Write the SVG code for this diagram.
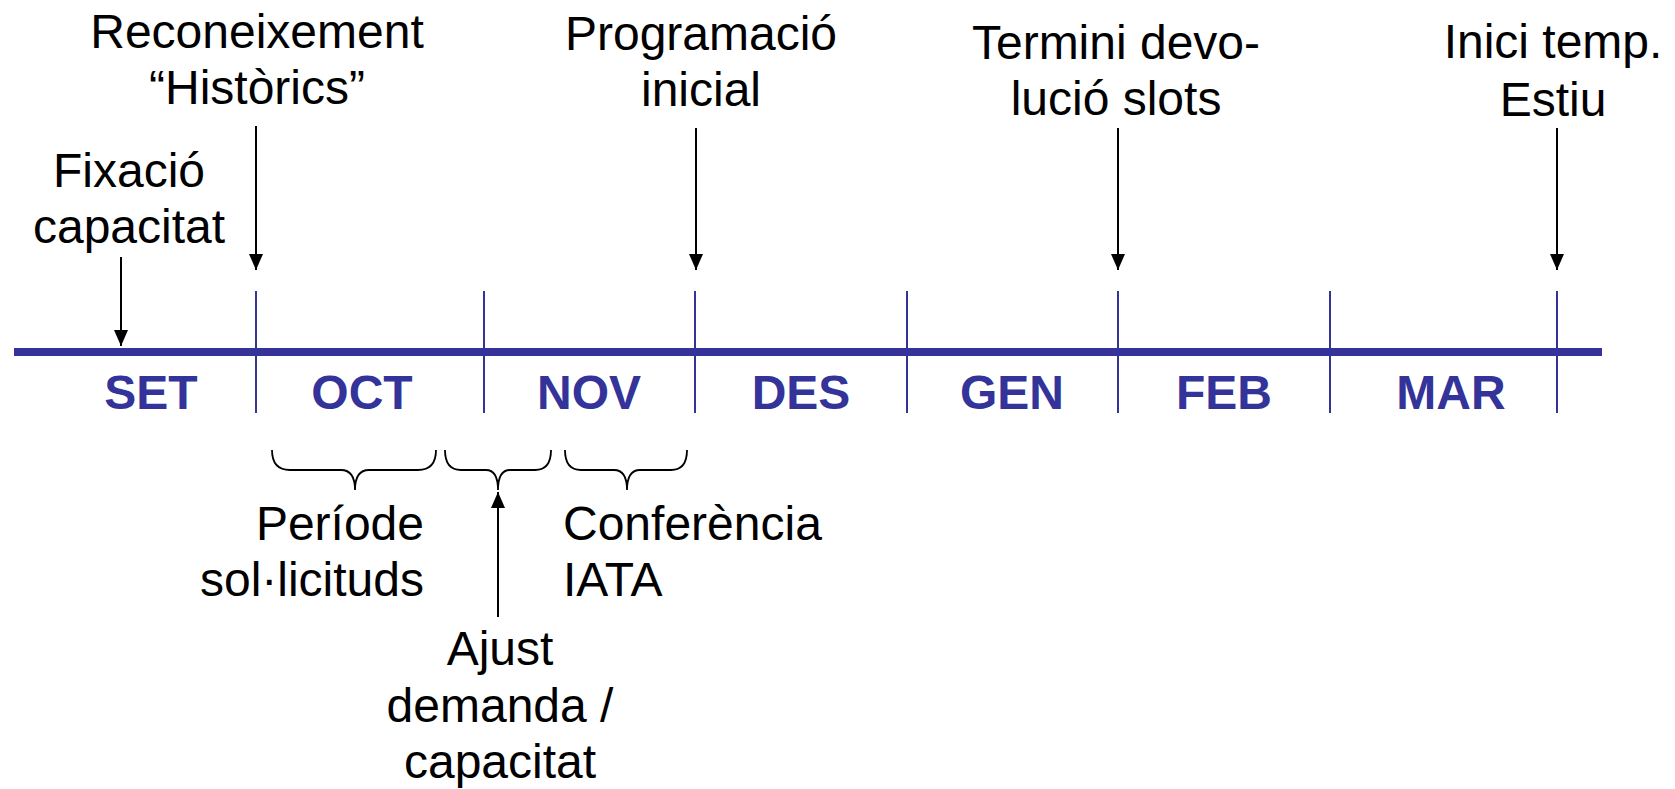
<svg xmlns="http://www.w3.org/2000/svg" width="1675" height="789" viewBox="0 0 1675 789">
<defs>
<style>
.lbl{font-family:"Liberation Sans",Arial,sans-serif;font-size:48px;fill:#000}
.mid{text-anchor:middle}
.mon{font-family:"Liberation Sans",Arial,sans-serif;font-size:48px;font-weight:bold;fill:#333399;text-anchor:middle}
.tick{stroke:#333399;stroke-width:2;fill:none}
.axis{stroke:#333399;stroke-width:8;fill:none}
.arr{stroke:#000;stroke-width:2;fill:none;marker-end:url(#ah)}
.brace{stroke:#000;stroke-width:1.8;fill:none}
</style>
<marker id="ah" viewBox="0 0 16 14" refX="16" refY="7" markerWidth="16" markerHeight="14" markerUnits="userSpaceOnUse" orient="auto">
<path d="M0,0 L16,7 L0,14 Z" fill="#000"/>
</marker>
</defs>
<rect width="1675" height="789" fill="#fff"/>
<g id="timeline">
<line class="axis" x1="14" y1="352" x2="1602" y2="352"/>
<line class="tick" x1="256" y1="291" x2="256" y2="413"/>
<line class="tick" x1="484" y1="291" x2="484" y2="413"/>
<line class="tick" x1="695" y1="291" x2="695" y2="413"/>
<line class="tick" x1="907" y1="291" x2="907" y2="413"/>
<line class="tick" x1="1118" y1="291" x2="1118" y2="413"/>
<line class="tick" x1="1330" y1="291" x2="1330" y2="413"/>
<line class="tick" x1="1557" y1="291" x2="1557" y2="413"/>
</g>
<g id="months">
<text class="mon" x="151" y="409">SET</text>
<text class="mon" x="362" y="409">OCT</text>
<text class="mon" x="589" y="409">NOV</text>
<text class="mon" x="801" y="409">DES</text>
<text class="mon" x="1012" y="409">GEN</text>
<text class="mon" x="1224" y="409">FEB</text>
<text class="mon" x="1451" y="409">MAR</text>
</g>
<g id="n-fixacio"><text class="lbl mid" x="129" y="187">Fixació</text><text class="lbl mid" x="129" y="243">capacitat</text></g>
<g id="n-historics"><text class="lbl mid" x="257" y="48">Reconeixement</text><text class="lbl mid" x="257" y="104">“Històrics”</text></g>
<g id="n-programacio"><text class="lbl mid" x="701" y="50">Programació</text><text class="lbl mid" x="701" y="106">inicial</text></g>
<g id="n-termini"><text class="lbl mid" x="1116" y="59">Termini devo-</text><text class="lbl mid" x="1116" y="115">lució slots</text></g>
<g id="n-inici"><text class="lbl mid" x="1553" y="58">Inici temp.</text><text class="lbl mid" x="1553" y="116">Estiu</text></g>
<g id="n-periode"><text class="lbl" text-anchor="end" x="424" y="540">Període</text><text class="lbl" text-anchor="end" x="424" y="596">sol·licituds</text></g>
<g id="n-conferencia"><text class="lbl" x="563" y="540">Conferència</text><text class="lbl" x="563" y="596">IATA</text></g>
<g id="n-ajust"><text class="lbl mid" x="500" y="665">Ajust</text><text class="lbl mid" x="500" y="722">demanda /</text><text class="lbl mid" x="500" y="778">capacitat</text></g>
<g id="braces">
<path class="brace" d="M272,450 Q272,470 290,470 L341,470 Q355,470 355,490 Q355,470 369,470 L418,470 Q436,470 436,450"/>
<path class="brace" d="M445,450 Q445,470 461,470 L486,470 Q498,470 498,490 Q498,470 510,470 L535,470 Q551,470 551,450"/>
<path class="brace" d="M565,450 Q565,470 581,470 L614,470 Q627,470 627,490 Q627,470 640,470 L671,470 Q687,470 687,450"/>
</g>
<g id="connectors">
<line class="arr" x1="121" y1="257" x2="121" y2="346"/>
<line class="arr" x1="256" y1="126" x2="256" y2="270"/>
<line class="arr" x1="696" y1="128" x2="696" y2="270"/>
<line class="arr" x1="1118" y1="128" x2="1118" y2="270"/>
<line class="arr" x1="1557" y1="128" x2="1557" y2="270"/>
<line class="arr" x1="498" y1="617" x2="498" y2="492"/>
</g>
</svg>
